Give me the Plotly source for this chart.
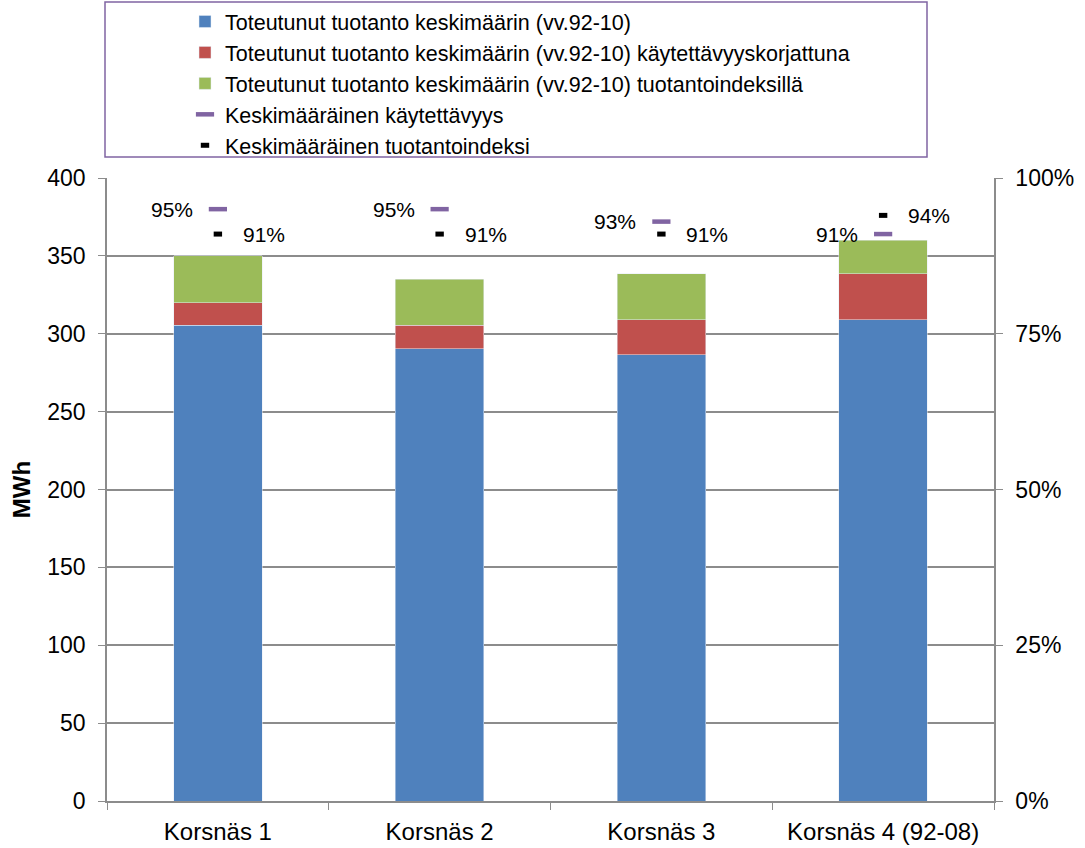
import plotly.graph_objects as go

# Wind turbines and their average yearly production components
categories = ["Korsnäs 1", "Korsnäs 2", "Korsnäs 3", "Korsnäs 4 (92-08)"]

# Stacked segments (MWh)
realized = [305.5, 290.5, 286.5, 309.0]           # actual average production
availability_add = [14.5, 15.0, 22.5, 29.5]       # extra from availability correction
index_add = [30.0, 29.5, 29.5, 21.5]              # extra from production index

# Averages on the secondary axis (share)
availability = [0.95, 0.95, 0.93, 0.91]
prod_index = [0.91, 0.91, 0.91, 0.94]

avail_labels = ["95%", "95%", "93%", "91%"]
index_labels = ["91%", "91%", "91%", "94%"]

BLUE = "#4F81BD"
RED = "#C0504D"
GREEN = "#9BBB59"
PURPLE = "#8064A2"
GRID = "#8C8C8C"
FONT = "Liberation Sans, Arial, sans-serif"

fig = go.Figure()

fig.add_trace(go.Bar(
    x=categories, y=realized, name="Toteutunut tuotanto keskimäärin (vv.92-10)",
    marker=dict(color=BLUE), width=0.4,
))
fig.add_trace(go.Bar(
    x=categories, y=availability_add,
    name="Toteutunut tuotanto keskimäärin (vv.92-10) käytettävyyskorjattuna",
    marker=dict(color=RED), width=0.4,
))
fig.add_trace(go.Bar(
    x=categories, y=index_add,
    name="Toteutunut tuotanto keskimäärin (vv.92-10) tuotantoindeksillä",
    marker=dict(color=GREEN), width=0.4,
))

fig.add_trace(go.Scatter(
    x=categories, y=availability, yaxis="y2", mode="markers",
    name="Keskimääräinen käytettävyys",
    marker=dict(symbol="line-ew", size=13, line=dict(color=PURPLE, width=4.5), color=PURPLE),
))
fig.add_trace(go.Scatter(
    x=categories, y=prod_index, yaxis="y2", mode="markers",
    name="Keskimääräinen tuotantoindeksi",
    marker=dict(symbol="line-ew", size=6, line=dict(color="black", width=5), color="black"),
))

# value labels next to the markers
annotations = []
for cat, v, lab in zip(categories, availability, avail_labels):
    annotations.append(dict(
        x=cat, y=v, xref="x", yref="y2", text=lab, showarrow=False,
        xanchor="right", yanchor="middle", xshift=-23,
        font=dict(size=21, color="black", family=FONT),
    ))
for cat, v, lab in zip(categories, prod_index, index_labels):
    annotations.append(dict(
        x=cat, y=v, xref="x", yref="y2", text=lab, showarrow=False,
        xanchor="left", yanchor="middle", xshift=23,
        font=dict(size=21, color="black", family=FONT),
    ))

# plot area in pixels: x 107..994, y 178..801
W, H = 1085, 848
L, R, T, B = 107, 994, 178, 801


def px_x(p):
    return (p - L) / (R - L)


def px_y(p):
    return (B - p) / (B - T)


fig.update_layout(
    width=W, height=H,
    margin=dict(l=L, r=W - R, t=T, b=H - B, autoexpand=False),
    barmode="stack",
    plot_bgcolor="white",
    paper_bgcolor="white",
    font=dict(family=FONT, size=22, color="black"),
    showlegend=True,
    annotations=annotations,
    legend=dict(
        x=px_x(185), y=px_y(1), xanchor="left", yanchor="top",
        xref="paper", yref="paper",
        traceorder="normal",
        font=dict(size=21.5, family=FONT, color="black"),
        bgcolor="rgba(0,0,0,0)", borderwidth=0,
        itemwidth=30,
    ),
    xaxis=dict(
        type="category",
        showline=True, linecolor=GRID, linewidth=1.5,
        ticks="outside", tickson="boundaries", ticklen=7, tickcolor=GRID,
        tickfont=dict(size=24), ticklabelstandoff=8,
        showgrid=False,
    ),
    yaxis=dict(
        range=[0, 400], dtick=50,
        showline=True, linecolor=GRID, linewidth=1.5,
        ticks="outside", ticklen=7, tickcolor=GRID,
        showgrid=True, gridcolor=GRID, gridwidth=1.5,
        zeroline=False,
        tickfont=dict(size=23), ticklabelstandoff=8,
        title=dict(text="<b>MWh</b>", font=dict(size=24), standoff=10),
    ),
    yaxis2=dict(
        range=[0, 1], overlaying="y", side="right",
        tickvals=[0, 0.25, 0.5, 0.75, 1.0],
        ticktext=["0%", "25%", "50%", "75%", "100%"],
        showline=True, linecolor=GRID, linewidth=1.5,
        ticks="outside", ticklen=7, tickcolor=GRID,
        showgrid=False, zeroline=False,
        tickfont=dict(size=23), ticklabelstandoff=8,
    ),
    shapes=[dict(
        type="rect", xref="paper", yref="paper",
        x0=px_x(105), x1=px_x(927), y0=px_y(157), y1=px_y(2),
        line=dict(color=PURPLE, width=1.5), fillcolor="rgba(0,0,0,0)",
    )],
)

fig.write_html("out.html")
